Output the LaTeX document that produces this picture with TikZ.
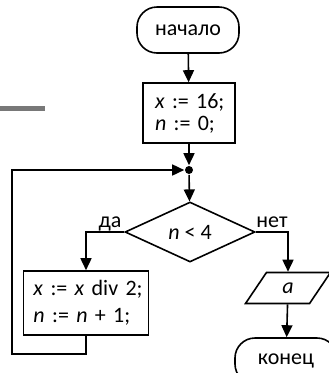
\documentclass[tikz,border=0pt]{standalone}
\usepackage{fontspec}
\setmainfont{Carlito}
\usetikzlibrary{shapes.geometric,arrows.meta}

\begin{document}
\begin{tikzpicture}
[x=1pt, y=-1pt, line width=1.6pt, >={Triangle[width=11pt,length=12pt]},
every node/.style={font=\fontsize{22}{22}\selectfont, inner sep=0pt},
term/.style={draw, rectangle, rounded corners=20pt, minimum width=102pt, minimum height=46pt},
proc/.style={draw, rectangle, align=left, inner xsep=2pt},
cond/.style={draw, diamond, aspect=2.2, minimum width=130pt, minimum height=60pt},
io/.style={draw, trapezium, trapezium left angle=63, trapezium right angle=117,
  trapezium stretches=true, minimum width=85pt, minimum height=31pt}]
\useasboundingbox (0,0) rectangle (329,373);

\draw[line width=5pt, color={rgb,255:red,120;green,120;blue,120}] (0,108.5) -- (45,108.5);

\node[term] (start) at (188,30) {начало};
\node[proc, text width=88pt, minimum height=60pt] (init) at (189,113)
  {\hspace*{10pt}\textit{x} := 16;\\ \hspace*{10pt}\textit{n} := 0;};
\node[circle, fill, minimum size=8pt] (join) at (189,170) {};
\node[cond] (cond) at (190,232) {\textit{n} < 4};
\node[proc, text width=121pt, minimum height=64pt] (body) at (86,303)
  {\hspace*{8pt}\textit{x} := \textit{x} div 2;\\[5pt] \hspace*{8pt}\textit{n} := \textit{n} + 1;};
\node[io] (out) at (288,288) {\textit{a}};
\node[term] (stop) at (286,361) {конец};
\coordinate (back) at (12,170);

\node[anchor=base] (yes) at (110,227) {да};
\node[anchor=base] (no) at (272,227) {нет};

\foreach \from/\to in {start/init,init/join,join/cond,out/stop}
	\draw[->] (\from) -- (\to);

\draw[->] (cond.west) -| (body.north);
\draw[->] (cond.east) -| (out.north);
\draw[->] (body.south) -- ++(0,18) -| (back) -- (join);

\end{tikzpicture}
\end{document}
